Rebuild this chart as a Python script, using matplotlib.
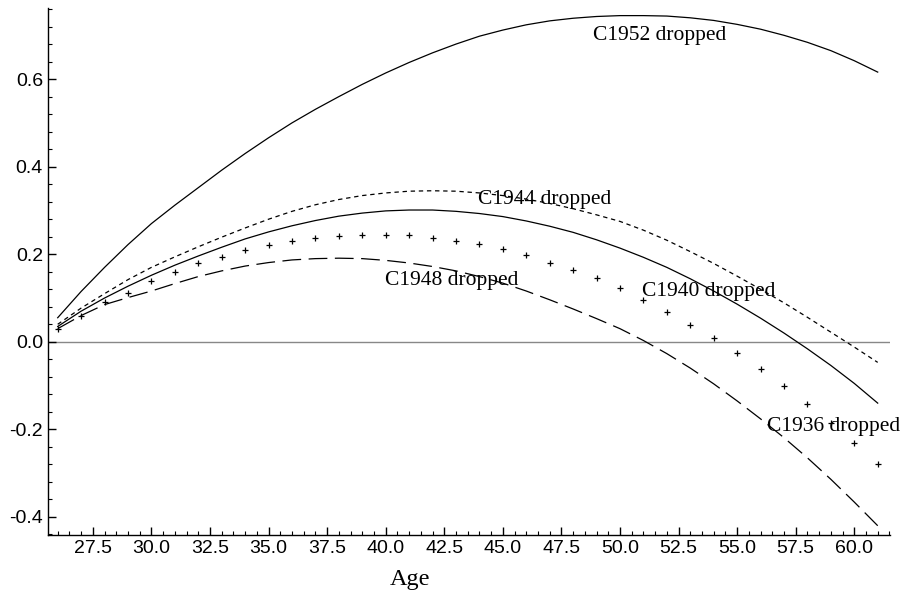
import matplotlib.pyplot as plt
from matplotlib.ticker import MultipleLocator, FormatStrFormatter

# one value per year of age
ages = list(range(26, 62))
c1952 = [0.055, 0.115, 0.17, 0.222, 0.27, 0.312, 0.352, 0.392, 0.43, 0.466, 0.50, 0.531,
         0.56, 0.588, 0.614, 0.638, 0.66, 0.68, 0.698, 0.712, 0.724, 0.733, 0.739, 0.743,
         0.745, 0.745, 0.744, 0.74, 0.734, 0.725, 0.714, 0.70, 0.684, 0.665, 0.642, 0.616]
c1944 = [0.04, 0.077, 0.11, 0.142, 0.17, 0.194, 0.217, 0.239, 0.26, 0.28, 0.298, 0.313,
         0.325, 0.334, 0.34, 0.344, 0.345, 0.344, 0.34, 0.334, 0.326, 0.316, 0.304, 0.29,
         0.275, 0.255, 0.232, 0.206, 0.179, 0.15, 0.12, 0.089, 0.056, 0.022, -0.012, -0.047]
c1940 = [0.035, 0.07, 0.10, 0.127, 0.152, 0.175, 0.196, 0.216, 0.235, 0.251, 0.265, 0.277,
         0.287, 0.294, 0.299, 0.301, 0.301, 0.298, 0.293, 0.286, 0.276, 0.264, 0.25, 0.233,
         0.214, 0.193, 0.17, 0.144, 0.116, 0.086, 0.054, 0.02, -0.016, -0.054, -0.095, -0.14]
c1948 = [0.03, 0.06, 0.085, 0.101, 0.116, 0.133, 0.149, 0.162, 0.173, 0.181, 0.187, 0.19,
         0.191, 0.19, 0.186, 0.18, 0.172, 0.162, 0.149, 0.134, 0.116, 0.096, 0.075, 0.053,
         0.03, 0.003, -0.027, -0.06, -0.096, -0.135, -0.176, -0.219, -0.265, -0.314, -0.366,
         -0.42]
# C1936 drawn as "+" at each age
c1936 = [0.03, 0.06, 0.09, 0.112, 0.139, 0.160, 0.18, 0.194, 0.21, 0.221, 0.231, 0.238,
         0.242, 0.244, 0.244, 0.244, 0.238, 0.231, 0.224, 0.212, 0.199, 0.18, 0.164, 0.146,
         0.123, 0.096, 0.068, 0.039, 0.009, -0.025, -0.062, -0.10, -0.142, -0.185, -0.231,
         -0.279]

labels = ["C1952 dropped", "C1944 dropped", "C1948 dropped", "C1940 dropped", "C1936 dropped"]
label_x = [51.7, 46.8, 42.8, 53.8, 59.1]
label_y = [0.699, 0.326, 0.139, 0.116, -0.194]

fig = plt.figure(figsize=(9.03, 5.95), dpi=100)
ax = fig.add_axes([0.053, 0.101, 0.933, 0.886])

ax.axhline(0, color='#888888', lw=1.0, zorder=1)

ax.plot(ages, c1952, color='black', lw=0.9)
ax.plot(ages, c1944, color='black', lw=0.9, dashes=(3.5, 3))
ax.plot(ages, c1940, color='black', lw=0.9)
ax.plot(ages, c1948, color='black', lw=0.9, dashes=(15, 6))
ax.plot(ages, c1936, ls='none', marker='+', ms=5, mew=0.9, color='black')

for t, x, y in zip(labels, label_x, label_y):
    ax.text(x, y, t, ha='center', va='center', fontsize=15.5, family='Liberation Serif',
            clip_on=False)

ax.set_xlim(25.58, 61.54)
ax.set_ylim(-0.441, 0.763)

for s in ['top', 'right']:
    ax.spines[s].set_visible(False)
for s in ['left', 'bottom']:
    ax.spines[s].set_linewidth(1.0)

ax.set_xticks([27.5 + 2.5 * i for i in range(14)])
ax.xaxis.set_minor_locator(MultipleLocator(0.5))
ax.xaxis.set_major_formatter(FormatStrFormatter('%.1f'))
ax.yaxis.set_major_locator(MultipleLocator(0.2))
ax.yaxis.set_minor_locator(MultipleLocator(0.04))
ax.yaxis.set_major_formatter(FormatStrFormatter('%.1f'))

ax.tick_params(which='major', direction='in', length=6, width=1, labelsize=14)
ax.tick_params(which='minor', direction='in', length=3, width=0.8)
for lab in ax.get_xticklabels() + ax.get_yticklabels():
    lab.set_family('Liberation Sans')

ax.text(0.43, -0.085, 'Age', transform=ax.transAxes, ha='center', va='center',
        fontsize=17.5, family='Liberation Serif')

fig.savefig('out.png', dpi=100)
